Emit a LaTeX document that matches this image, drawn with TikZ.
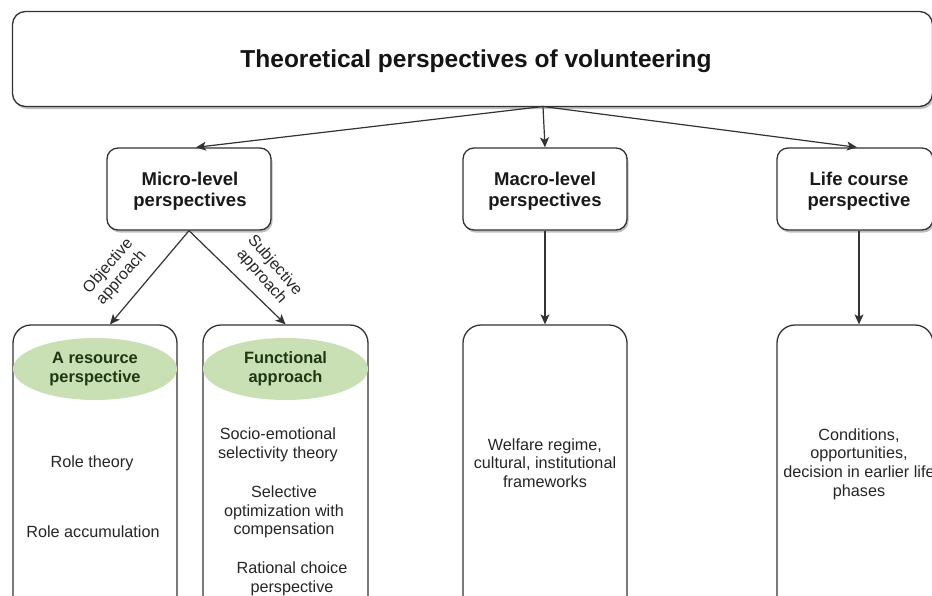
\documentclass[tikz,border=0pt]{standalone}
\usepackage{fontspec}
\setmainfont{Liberation Sans}
\usetikzlibrary{arrows.meta,shadows,shapes.geometric}
\definecolor{linec}{HTML}{333333}
\definecolor{greenfill}{HTML}{C9DFB4}
\definecolor{greentext}{HTML}{1E3814}
\definecolor{textc}{HTML}{262626}
\begin{document}
\begin{tikzpicture}[x=1pt,y=-1pt,
  shadowed/.style={drop shadow={shadow xshift=1.5pt,shadow yshift=-2.5pt,fill=black,opacity=0.25}},
  topbox/.style={draw=linec,line width=1.3pt,rounded corners=13pt,fill=white,shadowed,inner sep=0pt},
  midbox/.style={draw=linec,line width=1.3pt,rounded corners=11pt,fill=white,shadowed,
    minimum width=164pt,minimum height=82pt,inner sep=0pt},
  lowbox/.style={draw=linec,line width=1.3pt,rounded corners=18pt,fill=white,
    minimum height=300pt,inner sep=0pt},
  headtxt/.style={font=\bfseries\fontsize{18.5}{21.5}\selectfont,align=center,text=black!90},
  greenell/.style={ellipse,fill=greenfill,minimum width=164pt,minimum height=62pt,inner sep=0pt,
    font=\bfseries\fontsize{16.4}{19.5}\selectfont,text=greentext,align=center},
  bodytxt/.style={font=\fontsize{16.2}{18.7}\selectfont,align=center,text=textc,inner sep=0pt},
  lbl/.style={font=\fontsize{16}{17.5}\selectfont,align=center,text=textc,inner sep=0pt},
  arr/.style={draw=linec,line width=1.2pt,-{Stealth[length=10pt,width=9pt,inset=2.5pt]}}]
\useasboundingbox (0,0) rectangle (932,595);
\clip (0,0) rectangle (932,595);
% top box
\node[topbox,minimum width=920pt,minimum height=95pt] (top) at (472.5,59) {};
\node[font=\bfseries\fontsize{24.5}{28}\selectfont,text=black!92] (title) at (476,61) {Theoretical perspectives of volunteering};
\coordinate (hub) at (543,106.5);
% middle boxes
\node[midbox] (micro) at (189,189) {};
\node[headtxt] (microtxt) at (190,191) {Micro-level\\perspectives};
\node[midbox] (macro) at (545,189) {};
\node[headtxt] (macrotxt) at (545,191) {Macro-level\\perspectives};
\node[midbox,minimum width=156pt] (life) at (855,189) {};
\node[headtxt] (lifetxt) at (859,191) {Life course\\perspective};
% lower boxes
\node[lowbox,minimum width=164pt] (res) at (95,475) {};
\node[lowbox,minimum width=165pt] (func) at (285.5,475) {};
\node[lowbox,minimum width=164pt] (welf) at (545,475) {};
\node[lowbox,minimum width=156pt] (cond) at (855,475) {};
% ellipses
\node[greenell] (resell) at (95,369) {A resource\\perspective};
\node[greenell,minimum width=165pt] (funcell) at (285.5,369) {Functional\\approach};
% body texts
\node[bodytxt] (rt) at (92,463) {Role theory};
\node[bodytxt] (ra) at (93,532) {Role accumulation};
\node[bodytxt] (ses) at (278,445) {Socio-emotional\\selectivity theory};
\node[bodytxt] (soc) at (284,512) {Selective\\optimization with\\compensation};
\node[bodytxt] (rcp) at (292,579) {Rational choice\\perspective};
\node[bodytxt] (wr) at (545,463) {Welfare regime,\\cultural, institutional\\frameworks};
\node[bodytxt] (co) at (859,464) {Conditions,\\opportunities,\\decision in earlier life\\phases};
% connectors
\draw[arr] (hub) -- ([xshift=7pt]micro.north);
\draw[arr] (hub) -- (macro.north);
\draw[arr] (hub) -- ([xshift=2pt]life.north);
\draw[arr] (micro.south) -- ([xshift=15pt]res.north);
\draw[arr] (micro.south) -- (func.north);
\draw[arr] (macro.south) -- (welf.north);
\draw[arr] ([xshift=4pt]life.south) -- ([xshift=4pt]cond.north);
% labels
\node[lbl,rotate=49] (obj) at (115,272) {Objective\\approach};
\node[lbl,rotate=-49] (subj) at (268,271) {Subjective\\approach};
\end{tikzpicture}
\end{document}
